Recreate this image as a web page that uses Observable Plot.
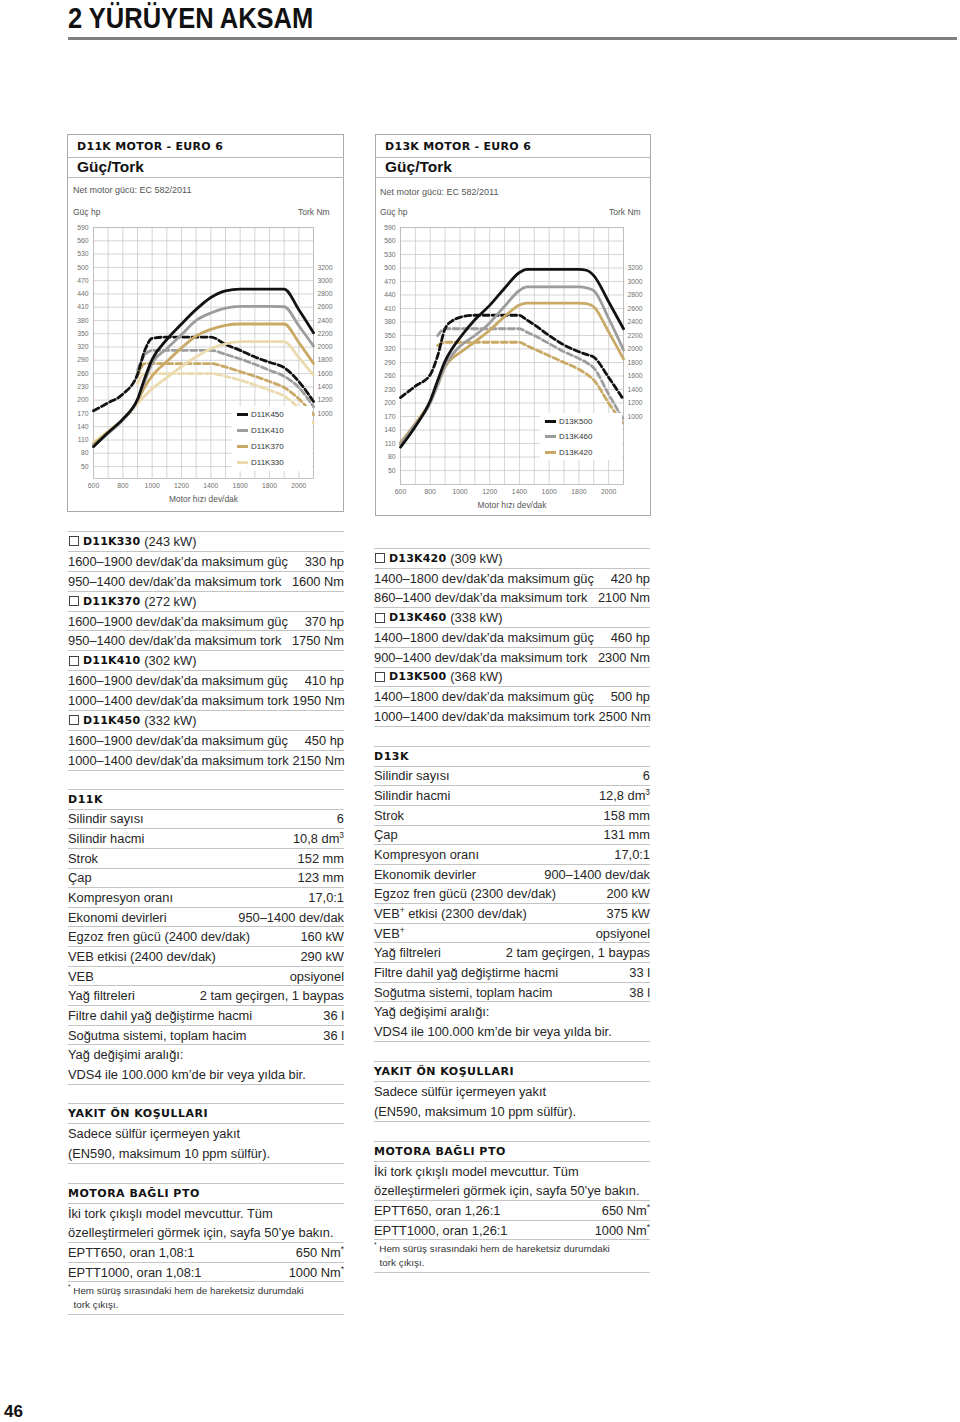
<!DOCTYPE html>
<html><head><meta charset="utf-8">
<script src="https://cdn.jsdelivr.net/npm/d3@7"></script>
<script src="https://cdn.jsdelivr.net/npm/@observablehq/plot@0.6"></script>
<style>
body{margin:0;background:#fff;font-family:"Liberation Sans",Arial,sans-serif;color:#222;}
#page{position:relative;width:960px;height:1422px;overflow:hidden;background:#fff;}
.abs{position:absolute;}
.h1{left:68px;top:1px;font:bold 29.5px "Liberation Sans",Arial,sans-serif;color:#111;white-space:nowrap;transform:scaleX(0.865);transform-origin:0 0;}
.hrule{left:68px;top:37px;width:889px;height:3px;background:#808080;}
.panel{border:1px solid #a9a9a9;box-sizing:border-box;}
.hl{height:1px;background:#b8b8b8;}
.ptitle{font:bold 11px "DejaVu Sans",sans-serif;letter-spacing:0.3px;color:#111;white-space:nowrap;line-height:14px;}
.psub{font:bold 15.5px "Liberation Sans",Arial,sans-serif;color:#111;white-space:nowrap;line-height:18px;}
.small{font-size:9px;color:#555;white-space:nowrap;}
.tiny{font-size:8.5px;color:#555;white-space:nowrap;}
.legend{background:#fff;}
.legend .it{position:absolute;left:5px;height:14px;display:flex;align-items:center;font-size:8px;color:#333;white-space:nowrap;}
.legend .sw{width:11px;height:3px;margin-right:3px;}
.block{border-top:1px solid #c4c4c4;width:276px;}
.row{border-bottom:1px solid #c4c4c4;box-sizing:border-box;display:flex;justify-content:space-between;align-items:center;font-size:12.85px;white-space:nowrap;color:#262626;}
.row .v{margin-left:4px;}
.row.multi{display:block;}
.row.multi div{white-space:nowrap;}
.mdl{display:flex;align-items:center;}
.cb{width:10px;height:10px;border:1px solid #444;box-sizing:border-box;margin:0 4px 0 1px;}
.bd{font:bold 11px "DejaVu Sans",sans-serif;letter-spacing:0.2px;color:#111;margin-right:4px;}
.hd{font:bold 11px "DejaVu Sans",sans-serif;letter-spacing:0.5px;color:#111;}
.note{font-size:9.9px;line-height:14px;color:#333;padding-top:2px;border-bottom:1px solid #c4c4c4;box-sizing:border-box;white-space:nowrap;}
sup{font-size:65%;line-height:0;vertical-align:5px;}
.pnum{left:4px;top:1402px;font:bold 17px "Liberation Sans",Arial,sans-serif;color:#111;}
</style></head>
<body><div id="page"></div>
<script>
// ---------- chart data ----------
const rpmTicks = [600, 800, 1000, 1200, 1400, 1600, 1800, 2000];
const hpTicks = [50, 80, 110, 140, 170, 200, 230, 260, 290, 320, 350, 380, 410, 440, 470, 500, 530, 560, 590];
const nmTicks = [1000, 1200, 1400, 1600, 1800, 2000, 2200, 2400, 2600, 2800, 3000, 3200];

const lineColors = ["#121212", "#9d9d9d", "#c9a966", "#eadaae"];

// D11K
const rpm11 = [600, 700, 800, 900, 950, 1000, 1100, 1200, 1300, 1400, 1500, 1600, 1700, 1800, 1900, 2000, 2100];
const models11 = ["D11K450", "D11K410", "D11K370", "D11K330"];
const hpD11K450 = [95, 127, 157, 202, 250, 292, 337, 372, 405, 432, 447, 451, 451, 451, 451, 404, 352];
const hpD11K410 = [97, 125, 155, 200, 243, 283, 316, 348, 380, 397, 408, 412, 412, 412, 411, 368, 322];
const hpD11K370 = [100, 128, 156, 198, 230, 255, 287, 318, 345, 360, 369, 372, 372, 372, 372, 330, 283];
const hpD11K330 = [104, 130, 156, 192, 210, 226, 251, 276, 298, 316, 327, 332, 332, 332, 332, 296, 256];
const nmD11K450 = [1040, 1160, 1290, 1590, 1950, 2130, 2150, 2150, 2150, 2150, 2040, 1950, 1850, 1770, 1690, 1480, 1180];
const nmD11K410 = [null, null, null, 1650, 1880, 1950, 1950, 1950, 1950, 1950, 1890, 1820, 1740, 1650, 1560, 1390, 1100];
const nmD11K370 = [null, null, null, 1560, 1750, 1750, 1750, 1750, 1750, 1750, 1700, 1630, 1560, 1480, 1390, 1220, 980];
const nmD11K330 = [null, null, null, 1450, 1600, 1600, 1600, 1600, 1600, 1600, 1560, 1500, 1430, 1350, 1260, 1080, 850];

// D13K
const rpm13 = [600, 700, 800, 850, 900, 950, 1000, 1100, 1200, 1300, 1400, 1450, 1500, 1600, 1700, 1800, 1850, 1900, 2000, 2100];
const models13 = ["D13K500", "D13K460", "D13K420"];
const hpD13K500 = [102, 148, 205, 250, 293, 322, 345, 385, 417, 455, 490, 497, 497, 497, 497, 497, 495, 483, 425, 365];
const hpD13K460 = [108, 152, 200, 240, 283, 308, 326, 350, 378, 415, 450, 458, 458, 458, 458, 458, 456, 450, 388, 318];
const hpD13K420 = [112, 155, 203, 240, 280, 300, 312, 336, 362, 392, 418, 422, 422, 422, 422, 422, 421, 414, 358, 298];
const nmD13K500 = [1280, 1450, 1620, 1900, 2300, 2420, 2470, 2500, 2500, 2500, 2500, 2430, 2360, 2200, 2060, 1960, 1920, 1880, 1580, 1250];
const nmD13K460 = [null, null, null, 2200, 2300, 2300, 2300, 2300, 2300, 2300, 2300, 2250, 2200, 2080, 1960, 1860, 1800, 1720, 1330, 950];
const nmD13K420 = [null, null, null, 2050, 2100, 2100, 2100, 2100, 2100, 2100, 2100, 2050, 2000, 1900, 1800, 1700, 1630, 1540, 1200, 880];

// ---------- text data ----------
const left1 = [
  {m: "D11K330", kw: "(243 kW)"},
  {k: "1600–1900 dev/dak’da maksimum güç", v: "330 hp"},
  {k: "950–1400 dev/dak’da maksimum tork", v: "1600 Nm"},
  {m: "D11K370", kw: "(272 kW)"},
  {k: "1600–1900 dev/dak’da maksimum güç", v: "370 hp"},
  {k: "950–1400 dev/dak’da maksimum tork", v: "1750 Nm"},
  {m: "D11K410", kw: "(302 kW)"},
  {k: "1600–1900 dev/dak’da maksimum güç", v: "410 hp"},
  {k: "1000–1400 dev/dak’da maksimum tork", v: "1950 Nm"},
  {m: "D11K450", kw: "(332 kW)"},
  {k: "1600–1900 dev/dak’da maksimum güç", v: "450 hp"},
  {k: "1000–1400 dev/dak’da maksimum tork", v: "2150 Nm"}
];
const left2 = [
  {h: "D11K"},
  {k: "Silindir sayısı", v: "6"},
  {k: "Silindir hacmi", v: "10,8 dm<sup>3</sup>"},
  {k: "Strok", v: "152 mm"},
  {k: "Çap", v: "123 mm"},
  {k: "Kompresyon oranı", v: "17,0:1"},
  {k: "Ekonomi devirleri", v: "950–1400 dev/dak"},
  {k: "Egzoz fren gücü (2400 dev/dak)", v: "160 kW"},
  {k: "VEB etkisi (2400 dev/dak)", v: "290 kW"},
  {k: "VEB", v: "opsiyonel"},
  {k: "Yağ filtreleri", v: "2 tam geçirgen, 1 baypas"},
  {k: "Filtre dahil yağ değiştirme hacmi", v: "36 l"},
  {k: "Soğutma sistemi, toplam hacim", v: "36 l"},
  {t: ["Yağ değişimi aralığı:", "VDS4 ile 100.000 km’de bir veya yılda bir."]}
];
const left3 = [
  {h: "YAKIT ÖN KOŞULLARI"},
  {t: ["Sadece sülfür içermeyen yakıt", "(EN590, maksimum 10 ppm sülfür)."]}
];
const left4 = [
  {h: "MOTORA BAĞLI PTO"},
  {t: ["İki tork çıkışlı model mevcuttur. Tüm", "özelleştirmeleri görmek için, sayfa 50’ye bakın."]},
  {k: "EPTT650, oran 1,08:1", v: "650 Nm<sup>*</sup>"},
  {k: "EPTT1000, oran 1,08:1", v: "1000 Nm<sup>*</sup>"},
  {n: ["<sup>*</sup> Hem sürüş sırasındaki hem de hareketsiz durumdaki", "&nbsp;&nbsp;tork çıkışı."]}
];
const right1 = [
  {m: "D13K420", kw: "(309 kW)"},
  {k: "1400–1800 dev/dak’da maksimum güç", v: "420 hp"},
  {k: "860–1400 dev/dak’da maksimum tork", v: "2100 Nm"},
  {m: "D13K460", kw: "(338 kW)"},
  {k: "1400–1800 dev/dak’da maksimum güç", v: "460 hp"},
  {k: "900–1400 dev/dak’da maksimum tork", v: "2300 Nm"},
  {m: "D13K500", kw: "(368 kW)"},
  {k: "1400–1800 dev/dak’da maksimum güç", v: "500 hp"},
  {k: "1000–1400 dev/dak’da maksimum tork", v: "2500 Nm"}
];
const right2 = [
  {h: "D13K"},
  {k: "Silindir sayısı", v: "6"},
  {k: "Silindir hacmi", v: "12,8 dm<sup>3</sup>"},
  {k: "Strok", v: "158 mm"},
  {k: "Çap", v: "131 mm"},
  {k: "Kompresyon oranı", v: "17,0:1"},
  {k: "Ekonomik devirler", v: "900–1400 dev/dak"},
  {k: "Egzoz fren gücü (2300 dev/dak)", v: "200 kW"},
  {k: "VEB<sup>+</sup> etkisi (2300 dev/dak)", v: "375 kW"},
  {k: "VEB<sup>+</sup>", v: "opsiyonel"},
  {k: "Yağ filtreleri", v: "2 tam geçirgen, 1 baypas"},
  {k: "Filtre dahil yağ değiştirme hacmi", v: "33 l"},
  {k: "Soğutma sistemi, toplam hacim", v: "38 l"},
  {t: ["Yağ değişimi aralığı:", "VDS4 ile 100.000 km’de bir veya yılda bir."]}
];
const right3 = left3;
const right4 = [
  {h: "MOTORA BAĞLI PTO"},
  {t: ["İki tork çıkışlı model mevcuttur. Tüm", "özelleştirmeleri görmek için, sayfa 50’ye bakın."]},
  {k: "EPTT650, oran 1,26:1", v: "650 Nm<sup>*</sup>"},
  {k: "EPTT1000, oran 1,26:1", v: "1000 Nm<sup>*</sup>"},
  {n: ["<sup>*</sup> Hem sürüş sırasındaki hem de hareketsiz durumdaki", "&nbsp;&nbsp;tork çıkışı."]}
];

// ---------- helpers ----------
const page = document.getElementById("page");
function el(html, cls, style) {
  const d = document.createElement("div");
  d.className = "abs " + (cls || "");
  if (style) Object.assign(d.style, style);
  d.innerHTML = html;
  page.appendChild(d);
  return d;
}
const toHp = nm => 20 + 0.15 * nm;

function buildRows(rpm, models, hpS, nmS) {
  const rows = [];
  models.forEach((m, i) => {
    rpm.forEach((r, j) => {
      if (hpS[i][j] != null) rows.push({model: m, kind: "hp", rpm: r, y: hpS[i][j]});
      if (nmS[i][j] != null) rows.push({model: m, kind: "nm", rpm: r, nm: nmS[i][j], y: toHp(nmS[i][j])});
    });
  });
  return rows;
}

function makeChart({rows, models, width, height, margin, yMin}) {
  const marks = [
    Plot.gridX(d3.range(600, 2101, 100), {stroke: "#c3c3c3", strokeOpacity: 1, strokeWidth: 0.7}),
    Plot.gridY(hpTicks, {stroke: "#c3c3c3", strokeOpacity: 1, strokeWidth: 0.7}),
    Plot.frame({stroke: "#b8b8b8", strokeWidth: 0.8}),
    Plot.axisY(hpTicks, {anchor: "left", tickSize: 0, tickPadding: 5, label: null, fill: "#707070", tickFormat: d => String(d)}),
    Plot.axisY(nmTicks.map(toHp), {anchor: "right", tickSize: 0, tickPadding: 4, label: null, fill: "#707070",
      tickFormat: d => String(Math.round((d - 20) / 0.15))}),
    Plot.axisX(rpmTicks, {anchor: "bottom", tickSize: 0, tickPadding: 5, label: null, fill: "#707070", tickFormat: d => String(d)}),
    Plot.text(["Motor hızı dev/dak"], {frameAnchor: "bottom", dy: 23, fontSize: 8.4, fill: "#555"})
  ];
  for (let i = models.length - 1; i >= 0; i--) {
    const m = models[i];
    marks.push(Plot.line(rows.filter(d => d.model === m && d.kind === "nm"),
      {x: "rpm", y: "y", stroke: lineColors[i], strokeWidth: 2.8, strokeDasharray: "6,3.2", curve: "monotone-x"}));
  }
  for (let i = models.length - 1; i >= 0; i--) {
    const m = models[i];
    marks.push(Plot.line(rows.filter(d => d.model === m && d.kind === "hp"),
      {x: "rpm", y: "y", stroke: lineColors[i], strokeWidth: 2.8, curve: "monotone-x"}));
  }
  return Plot.plot({
    width, height,
    marginLeft: margin[0], marginRight: margin[1], marginTop: margin[2], marginBottom: margin[3],
    x: {domain: [600, 2100]},
    y: {domain: [yMin, 590]},
    style: {fontFamily: "Liberation Sans, Arial, sans-serif", fontSize: "6.8px", background: "transparent", overflow: "visible"},
    marks
  });
}

function block(rows, x, top, pitch) {
  const b = el("", "block", {left: x + "px", top: top + "px"});
  for (const r of rows) {
    const d = document.createElement("div");
    if (r.n) {
      d.className = "note";
      d.innerHTML = r.n.map(s => `<div>${s}</div>`).join("");
      d.style.height = "33px";
    } else if (r.t) {
      d.className = "row multi";
      d.style.height = (pitch * r.t.length) + "px";
      d.style.lineHeight = pitch + "px";
      d.innerHTML = r.t.map(s => `<div>${s}</div>`).join("");
    } else {
      d.className = "row";
      d.style.height = pitch + "px";
      if (r.m) d.innerHTML = `<div class="mdl"><span class="cb"></span><span class="bd">${r.m}</span><span>${r.kw}</span></div>`;
      else if (r.h) d.innerHTML = `<span class="hd">${r.h}</span>`;
      else d.innerHTML = `<span>${r.k}</span><span class="v">${r.v}</span>`;
    }
    b.appendChild(d);
  }
}

function legend(models, x, top, w, h, pitch) {
  const L = el("", "legend", {left: x + "px", top: top + "px", width: w + "px", height: h + "px"});
  models.forEach((m, i) => {
    const it = document.createElement("div");
    it.className = "it";
    it.style.top = (1 + i * pitch) + "px";
    it.innerHTML = `<span class="sw" style="background:${lineColors[i]}"></span>${m}`;
    L.appendChild(it);
  });
}

function panel(x, w, h, title) {
  el("", "panel", {left: x + "px", top: "134px", width: w + "px", height: h + "px"});
  el("", "hl", {left: x + "px", top: "157px", width: w + "px"});
  el("", "hl", {left: x + "px", top: "177px", width: w + "px"});
  el(title, "ptitle", {left: (x + 10) + "px", top: "140px"});
  el("Güç/Tork", "psub", {left: (x + 10) + "px", top: "158px"});
}

// ---------- page ----------
el("2 YÜRÜYEN AKSAM", "h1");
el("", "hrule");

panel(67, 277, 378, "D11K MOTOR - EURO 6");
panel(375, 276, 382, "D13K MOTOR - EURO 6");
el("Net motor gücü: EC 582/2011", "small", {left: "73px", top: "185px"});
el("Net motor gücü: EC 582/2011", "small", {left: "380px", top: "187px"});
el("Güç hp", "tiny", {left: "73px", top: "207px"});
el("Tork Nm", "tiny", {left: "298px", top: "207px"});
el("Güç hp", "tiny", {left: "380px", top: "207px"});
el("Tork Nm", "tiny", {left: "609px", top: "207px"});

const c11 = makeChart({
  rows: buildRows(rpm11, models11, [hpD11K450, hpD11K410, hpD11K370, hpD11K330], [nmD11K450, nmD11K410, nmD11K370, nmD11K330]),
  models: models11, width: 275, height: 290, margin: [25, 30, 7, 32], yMin: 23
});
const w11 = el("", "", {left: "68px", top: "220px"});
w11.appendChild(c11);

const c13 = makeChart({
  rows: buildRows(rpm13, models13, [hpD13K500, hpD13K460, hpD13K420], [nmD13K500, nmD13K460, nmD13K420]),
  models: models13, width: 274, height: 294, margin: [24, 27, 7, 30], yMin: 19
});
const w13 = el("", "", {left: "376px", top: "220px"});
w13.appendChild(c13);

legend(models11, 232, 406, 80, 65, 16.3);
legend(models13, 540, 413, 82, 47, 15.5);

block(left1, 68, 531, 19.9);
block(left2, 68, 789, 19.65);
block(left3, 68, 1103, 20);
block(left4, 68, 1183, 19.7);
block(right1, 374, 548, 19.75);
block(right2, 374, 746, 19.65);
block(right3, 374, 1061, 20);
block(right4, 374, 1141, 19.7);

el("46", "pnum");
</script>
</body></html>
